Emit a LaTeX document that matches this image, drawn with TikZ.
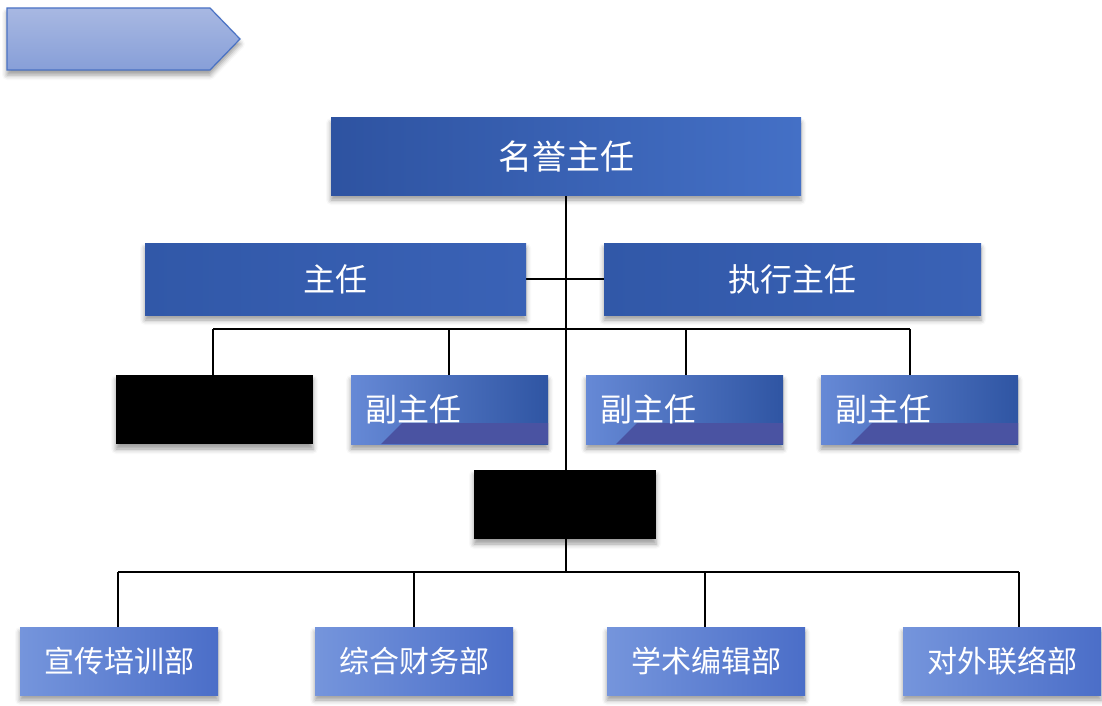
\documentclass[tikz,border=0pt]{standalone}
\usepackage{fontspec}
\newfontfamily\cjk{Noto Sans CJK SC}
\usetikzlibrary{shadows.blur,backgrounds,calc}
\definecolor{chevfillA}{HTML}{A8B8E2}
\definecolor{chevfillB}{HTML}{879FD8}
\definecolor{chevline}{HTML}{4A72C4}
\definecolor{topA}{HTML}{2E53A1}
\definecolor{topB}{HTML}{4470C6}
\definecolor{midA}{HTML}{3A62B6}
\definecolor{midB}{HTML}{3158A8}
\definecolor{viceA}{HTML}{6689D6}
\definecolor{viceB}{HTML}{2F55A3}
\definecolor{band}{HTML}{4A53A2}
\definecolor{deptA}{HTML}{7595DC}
\definecolor{deptB}{HTML}{4B6EC8}
\tikzset{
  x=1pt, y=-1pt,
  shad/.style={blur shadow={shadow xshift=0pt, shadow yshift=-5pt, shadow blur radius=5pt, shadow opacity=40}},
  boxbase/.style={rectangle, draw=none, text=white, inner sep=0pt, shad},
  topbox/.style={boxbase, minimum width=470pt, minimum height=77pt, left color=topA, right color=topB, font=\cjk\fontsize{34}{34}\selectfont},
  secbox/.style={boxbase, minimum height=72pt, left color=midB, right color=midA, font=\cjk\fontsize{32}{32}\selectfont},
  vicebox/.style={boxbase, minimum width=197pt, minimum height=69pt, text width=169pt, align=left,
    left color=viceA, right color=viceB, font=\cjk\fontsize{32}{32}\selectfont,
    path picture={\fill[band] ($(path picture bounding box.south west)+(30,0)$) -- ($(path picture bounding box.south west)+(51,-21)$) -- ($(path picture bounding box.south east)+(0,-21)$) -- (path picture bounding box.south east) -- cycle;}},
  darkbox/.style={boxbase, fill=black},
  deptbox/.style={boxbase, minimum width=198pt, minimum height=68pt, left color=deptA, right color=deptB, font=\cjk\fontsize{30}{30}\selectfont},
  conn/.style={draw=black, line width=1.3pt}
}
\begin{document}
\begin{tikzpicture}
\useasboundingbox (0,0) rectangle (1102,706);
% banner chevron
\path[shad, top color=chevfillA, bottom color=chevfillB, draw=chevline, line width=1.2pt]
  (7,8) -- (210,8) -- (240,39) -- (210,70) -- (7,70) -- cycle;
% nodes
\node[topbox] (top) at (566,156.5) {名誉主任};
\node[secbox, minimum width=381pt] (sa) at (335.5,279) {主任};
\node[secbox, minimum width=377pt] (sb) at (792.5,279) {执行主任};
\node[darkbox, minimum width=197pt, minimum height=69pt] (va) at (214.5,409.5) {};
\node[vicebox] (vb) at (449.5,409.5) {副主任};
\node[vicebox] (vc) at (684.5,409.5) {副主任};
\node[vicebox] (vd) at (919.5,409.5) {副主任};
\node[darkbox, minimum width=182pt, minimum height=69pt] (mid) at (565,504.5) {};
\node[deptbox] (da) at (119,661) {宣传培训部};
\node[deptbox] (db) at (414,661) {综合财务部};
\node[deptbox] (dc) at (706,661) {学术编辑部};
\node[deptbox] (dd) at (1002,661) {对外联络部};
% connectors
\coordinate (bus1) at (566,329);
\coordinate (bus2) at (566,572);
\coordinate (ja) at (213,329);
\coordinate (jb) at (449,329);
\coordinate (jc) at (686,329);
\coordinate (jd) at (910,329);
\coordinate (ka) at (118,572);
\coordinate (kb) at (414,572);
\coordinate (kc) at (705,572);
\coordinate (kd) at (1019,572);
\begin{pgfonlayer}{background}
\draw[conn] (top.south) -- (bus2);
\draw[conn] (sa.east) -- (sb.west);
\draw[conn] (ja) -- (jd);
\draw[conn] (ja) -- (ja |- va.north);
\draw[conn] (jb) -- (jb |- vb.north);
\draw[conn] (jc) -- (jc |- vc.north);
\draw[conn] (jd) -- (jd |- vd.north);
\draw[conn] (ka) -- (kd);
\draw[conn] (ka) -- (ka |- da.north);
\draw[conn] (kb) -- (kb |- db.north);
\draw[conn] (kc) -- (kc |- dc.north);
\draw[conn] (kd) -- (kd |- dd.north);
\end{pgfonlayer}
\end{tikzpicture}
\end{document}
